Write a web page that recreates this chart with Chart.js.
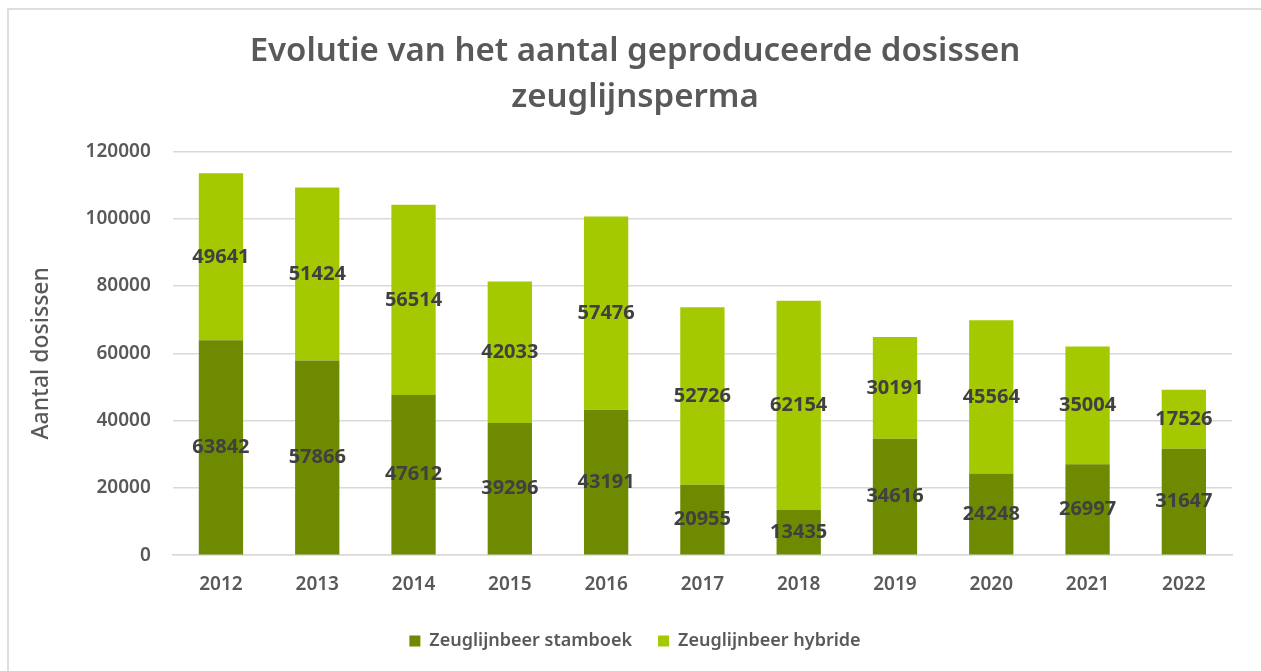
<!DOCTYPE html>
<html>
<head>
<meta charset="utf-8">
<script src="https://cdn.jsdelivr.net/npm/chart.js@4"></script>
<style>
    html, body { margin: 0; padding: 0; background: #fff; }
    #wrap { position: absolute; left: 0; top: 0; width: 1261px; height: 671px; }
    #frame { position: absolute; left: 7px; top: 8px; width: 1270px; height: 680px; border: 2px solid #dedede; box-sizing: border-box; }
</style>
</head>
<body>
<div id="frame"></div>
<div id="wrap"><canvas id="doseChart" width="1261" height="671"></canvas></div>
<script>
const years = ["2012", "2013", "2014", "2015", "2016", "2017", "2018", "2019", "2020", "2021", "2022"];
const stamboek = [63842, 57866, 47612, 39296, 43191, 20955, 13435, 34616, 24248, 26997, 31647];
const hybride = [49641, 51424, 56514, 42033, 57476, 52726, 62154, 30191, 45564, 35004, 17526];
const yTicks = [0, 20000, 40000, 60000, 80000, 100000, 120000];

const FONT = "'Noto Sans', 'Open Sans', sans-serif";

// labels in the middle of each bar segment
const segmentLabels = {
    id: "segmentLabels",
    afterDatasetsDraw(chart) {
        const ctx = chart.ctx;
        ctx.save();
        ctx.font = "bold 20px " + FONT;
        ctx.fillStyle = "#404040";
        ctx.textAlign = "center";
        ctx.textBaseline = "middle";
        chart.data.datasets.forEach((ds, i) => {
            chart.getDatasetMeta(i).data.forEach((bar, j) => {
                const mid = (bar.y + bar.base) / 2;
                ctx.fillText(String(ds.data[j]), bar.x, mid);
            });
        });
        ctx.restore();
    }
};

new Chart(document.getElementById("doseChart"), {
    type: "bar",
    data: {
        labels: years,
        datasets: [
            {
                label: "Zeuglijnbeer stamboek",
                data: stamboek,
                backgroundColor: "#6e8a00",
                categoryPercentage: 1,
                barPercentage: 0.46
            },
            {
                label: "Zeuglijnbeer hybride",
                data: hybride,
                backgroundColor: "#a5c900",
                categoryPercentage: 1,
                barPercentage: 0.46
            }
        ]
    },
    options: {
        responsive: false,
        animation: false,
        layout: { padding: { left: 38, right: 29, top: 20, bottom: 11 } },
        plugins: {
            title: {
                display: true,
                text: ["Evolutie van het aantal geproduceerde dosissen", "zeuglijnsperma"],
                color: "#595959",
                font: { family: FONT, size: 33, weight: "600", lineHeight: 1.4 },
                padding: { top: 8, bottom: 31 }
            },
            legend: {
                position: "bottom",
                labels: {
                    color: "#595959",
                    font: { family: FONT, size: 18, weight: "600" },
                    boxWidth: 11,
                    boxHeight: 11,
                    padding: 26
                }
            },
            tooltip: { enabled: false }
        },
        scales: {
            x: {
                stacked: true,
                grid: { display: false },
                border: { color: "#d9d9d9", width: 1.5 },
                ticks: { color: "#595959", font: { family: FONT, size: 19, weight: "600" }, padding: 10 }
            },
            y: {
                stacked: true,
                min: 0,
                max: 120000,
                afterBuildTicks: axis => { axis.ticks = yTicks.map(v => ({ value: v })); },
                grid: { color: "#d9d9d9", lineWidth: 1.5, drawTicks: false },
                border: { display: false },
                ticks: {
                    color: "#595959",
                    font: { family: FONT, size: 19, weight: "600" },
                    padding: 22,
                    callback: v => String(v)
                },
                title: {
                    display: true,
                    text: "Aantal dosissen",
                    color: "#595959",
                    font: { family: FONT, size: 23, weight: "500" },
                    padding: { top: -10, bottom: 8 }
                }
            }
        }
    },
    plugins: [segmentLabels]
});
</script>
</body>
</html>
